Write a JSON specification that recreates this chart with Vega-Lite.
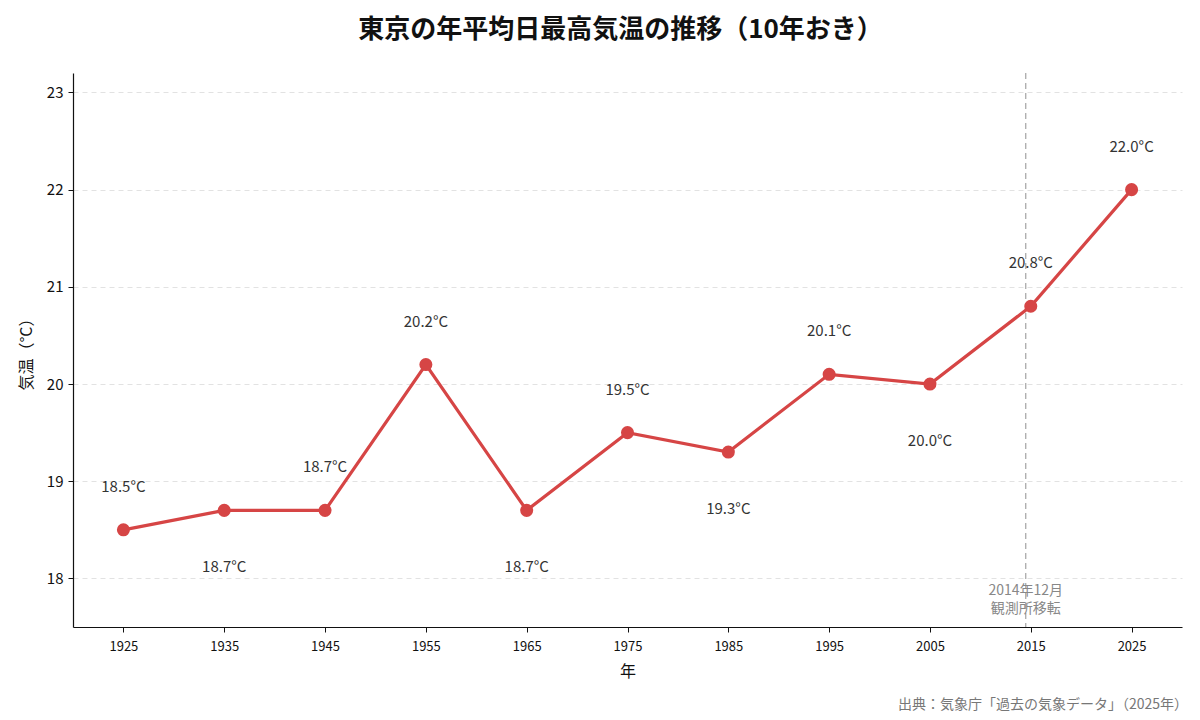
{
  "$schema": "https://vega.github.io/schema/vega-lite/v6.json",
  "width": 1109,
  "height": 554,
  "autosize": {"type": "none"},
  "padding": {"left": 73, "top": 73, "right": 18, "bottom": 93},
  "background": "white",
  "config": {
    "font": "Noto Sans CJK JP",
    "view": {"stroke": null},
    "axis": {"labelFont": "Noto Sans CJK JP", "titleFont": "Noto Sans CJK JP"}
  },
  "title": {
    "text": "東京の年平均日最高気温の推移（10年おき）",
    "fontSize": 26,
    "fontWeight": "bold",
    "color": "#111111",
    "anchor": "middle",
    "dx": -7,
    "offset": 29
  },
  "datasets": {
    "temps": [
      {"year": 1925, "temp": 18.5},
      {"year": 1935, "temp": 18.7},
      {"year": 1945, "temp": 18.7},
      {"year": 1955, "temp": 20.2},
      {"year": 1965, "temp": 18.7},
      {"year": 1975, "temp": 19.5},
      {"year": 1985, "temp": 19.3},
      {"year": 1995, "temp": 20.1},
      {"year": 2005, "temp": 20.0},
      {"year": 2015, "temp": 20.8},
      {"year": 2025, "temp": 22.0}
    ],
    "move": [{"year": 2014.5, "temp": 17.5, "edge": 2030}]
  },
  "layer": [
    {
      "data": {"name": "move"},
      "mark": {"type": "rule", "color": "#aaaaaa", "strokeDash": [6, 4], "strokeWidth": 1.3},
      "encoding": {
        "x": {
          "field": "year",
          "type": "quantitative",
          "scale": {"domain": [1920, 2030], "nice": false, "zero": false},
          "axis": {
            "values": [1925, 1935, 1945, 1955, 1965, 1975, 1985, 1995, 2005, 2015, 2025],
            "format": "d",
            "title": "年",
            "titleFontSize": 16,
            "titleFontWeight": "normal",
            "titleColor": "#111111",
            "titlePadding": 10,
            "labelFontSize": 13,
            "labelColor": "#111111",
            "labelPadding": 8,
            "tickSize": 5,
            "tickColor": "#111111",
            "domainColor": "#111111",
            "domainWidth": 1.2,
            "grid": false
          }
        }
      }
    },
    {
      "data": {"name": "temps"},
      "mark": {"type": "line", "color": "#d64545", "strokeWidth": 3.2},
      "encoding": {
        "x": {"field": "year", "type": "quantitative"},
        "y": {
          "field": "temp",
          "type": "quantitative",
          "scale": {"domain": [17.5, 23.2], "nice": false, "zero": false},
          "axis": {
            "values": [18, 19, 20, 21, 22, 23],
            "format": "d",
            "title": "気温（°C）",
            "titleFontSize": 16,
            "titleFontWeight": "normal",
            "titleColor": "#111111",
            "titlePadding": 12,
            "labelFontSize": 15,
            "labelColor": "#111111",
            "labelPadding": 5,
            "tickSize": 5,
            "tickColor": "#111111",
            "domainColor": "#111111",
            "domainWidth": 1.2,
            "grid": true,
            "gridColor": "#e2e2e2",
            "gridDash": [5, 4],
            "gridWidth": 1
          }
        }
      }
    },
    {
      "data": {"name": "temps"},
      "mark": {"type": "point", "filled": true, "color": "#d64545", "size": 170, "opacity": 1},
      "encoding": {
        "x": {"field": "year", "type": "quantitative"},
        "y": {"field": "temp", "type": "quantitative"}
      }
    },
    {
      "data": {"name": "temps"},
      "transform": [{"filter": {"not": {"field": "year", "oneOf": [1935, 1965, 1985, 2005]}}}],
      "mark": {"type": "text", "fontSize": 15, "color": "#333333", "dy": -43, "baseline": "middle", "text": {"expr": "format(datum.temp, '.1f') + '°C'"}},
      "encoding": {
        "x": {"field": "year", "type": "quantitative"},
        "y": {"field": "temp", "type": "quantitative"}
      }
    },
    {
      "data": {"name": "temps"},
      "transform": [{"filter": {"field": "year", "oneOf": [1935, 1965, 1985, 2005]}}],
      "mark": {"type": "text", "fontSize": 15, "color": "#333333", "dy": 57, "baseline": "middle", "text": {"expr": "format(datum.temp, '.1f') + '°C'"}},
      "encoding": {
        "x": {"field": "year", "type": "quantitative"},
        "y": {"field": "temp", "type": "quantitative"}
      }
    },
    {
      "data": {"name": "move"},
      "mark": {"type": "text", "fontSize": 14, "color": "#888888", "align": "center", "baseline": "bottom", "dy": -29, "lineHeight": 18, "text": ["2014年12月", "観測所移転"]},
      "encoding": {
        "x": {"field": "year", "type": "quantitative"},
        "y": {"field": "temp", "type": "quantitative"}
      }
    },
    {
      "data": {"name": "move"},
      "mark": {"type": "text", "fontSize": 14, "color": "#777777", "align": "right", "baseline": "middle", "dy": 78, "dx": 6, "text": "出典：気象庁「過去の気象データ」（2025年）"},
      "encoding": {
        "x": {"field": "edge", "type": "quantitative"},
        "y": {"field": "temp", "type": "quantitative"}
      }
    }
  ]
}
